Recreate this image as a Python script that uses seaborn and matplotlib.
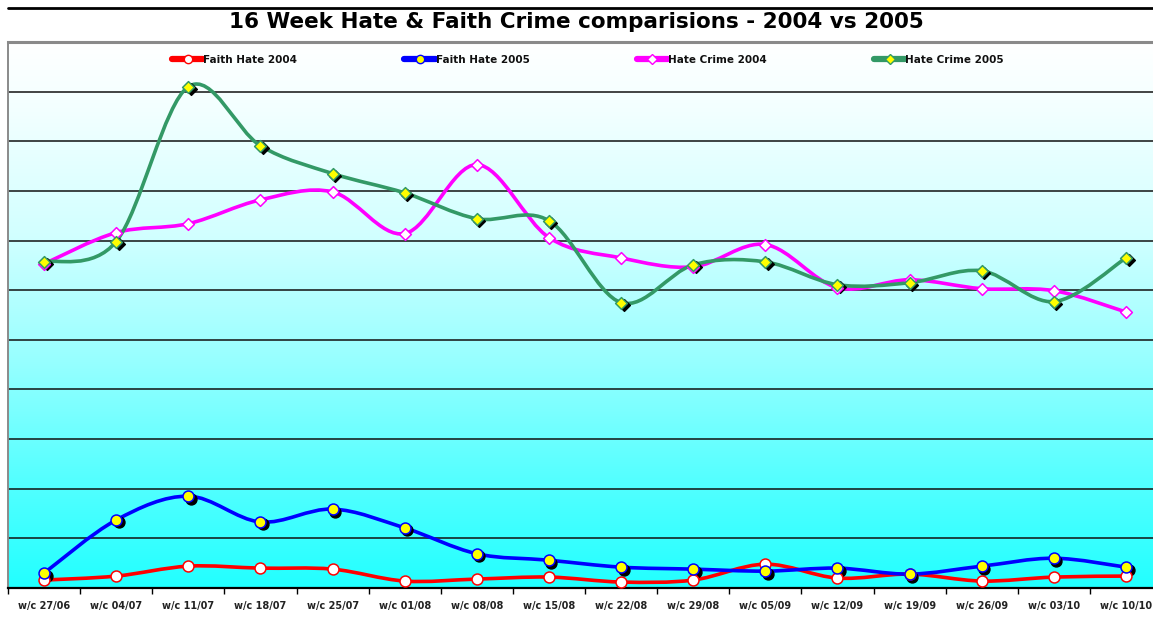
"""16 week hate & faith crime comparison chart, 2004 vs 2005."""

import matplotlib
matplotlib.use("Agg")
import matplotlib.pyplot as plt
import matplotlib.transforms as mtransforms
import numpy as np
import pandas as pd
import seaborn as sns
from matplotlib.colors import LinearSegmentedColormap
from matplotlib.lines import Line2D
from matplotlib.patches import PathPatch
from matplotlib.path import Path

weeks = ["w/c 27/06", "w/c 04/07", "w/c 11/07", "w/c 18/07", "w/c 25/07", "w/c 01/08",
         "w/c 08/08", "w/c 15/08", "w/c 22/08", "w/c 29/08", "w/c 05/09", "w/c 12/09",
         "w/c 19/09", "w/c 26/09", "w/c 03/10", "w/c 10/10"]

faith_2004 = [1.6, 2.4, 4.4, 4.0, 3.8, 1.4, 1.8, 2.2, 1.2, 1.6, 4.8, 2.0, 2.8, 1.4, 2.2, 2.4]
faith_2005 = [3.0, 13.7, 18.5, 13.3, 15.9, 12.1, 6.9, 5.6, 4.2, 3.8, 3.4, 4.0, 2.8, 4.4, 6.0, 4.2]
hate_2004 = [65.3, 71.6, 73.4, 78.2, 79.8, 71.4, 85.3, 70.6, 66.5, 64.7, 69.2, 60.5, 62.1, 60.3, 59.9, 55.6]
hate_2005 = [65.7, 69.8, 101.0, 89.1, 83.5, 79.6, 74.4, 74.0, 57.5, 65.1, 65.7, 61.1, 61.5, 63.9, 57.7, 66.5]

series_names = ["Faith Hate 2004", "Faith Hate 2005", "Hate Crime 2004", "Hate Crime 2005"]


def smooth_path(xs, ys, t=1 / 6):
    """Excel-style smoothed line: cubic bezier through each data point."""
    pts = np.column_stack([xs, ys]).astype(float)
    n = len(pts)
    verts, codes = [pts[0]], [Path.MOVETO]
    for i in range(n - 1):
        p0, p1 = pts[max(i - 1, 0)], pts[i]
        p2, p3 = pts[i + 1], pts[min(i + 2, n - 1)]
        verts += [p1 + (p2 - p0) * t, p2 - (p3 - p1) * t, p2]
        codes += [Path.CURVE4] * 3
    return Path(verts, codes)


sns.set_style("white")
plt.rcParams["font.family"] = ["DejaVu Sans"]

W, H = 1153, 633
fig = plt.figure(figsize=(W / 100, H / 100), dpi=100)
ax = fig.add_axes([8 / W, 45 / H, (W - 8) / W, 546 / H])

x = np.arange(len(weeks))
x_right = -0.5 + (W - 8) / 72.13

# background gradient, white at top to cyan at bottom
cmap = LinearSegmentedColormap.from_list(
    "bg", [(0.0, "#22ffff"), (0.2, "#55ffff"), (0.42, "#98ffff"),
           (0.65, "#d2ffff"), (0.88, "#f3ffff"), (1.0, "#ffffff")])
grad = np.linspace(0, 1, 256).reshape(-1, 1)
ax.imshow(grad, cmap=cmap, origin="lower", aspect="auto",
          extent=[-0.5, x_right, 0, 110], zorder=0)

for yv in range(10, 110, 10):
    ax.axhline(yv, color="#111111", lw=1.1, zorder=1)

styles = [
    (faith_2004, "#ff0000", "o", "white", 62, False),
    (faith_2005, "#0000ff", "o", "#ffff00", 62, True),
    (hate_2004, "#ff00ff", "D", "white", 36, False),
    (hate_2005, "#339966", "D", "#ffff00", 36, True),
]

shadow = mtransforms.offset_copy(ax.transData, fig=fig, x=2.5, y=-2.5, units="dots")
for vals, color, marker, face, size, has_shadow in styles:
    ax.add_patch(PathPatch(smooth_path(x, vals), fill=False, edgecolor=color, lw=2.6,
                           capstyle="round", joinstyle="round", zorder=3))
    df = pd.DataFrame({"week": x, "value": vals})
    if has_shadow:
        ax.scatter(df["week"], df["value"], s=size, marker=marker, color="black",
                   transform=shadow, zorder=4)
    sns.scatterplot(data=df, x="week", y="value", marker=marker, s=size, color=face,
                    edgecolor=color, linewidth=1.1, zorder=5, ax=ax, legend=False)

handles = [Line2D([], [], color=c, lw=4.5, marker=m, markerfacecolor=f,
                  markeredgecolor=c, markersize=6 if m == "o" else 5)
           for _, c, m, f, _, _ in styles]
ax.legend(handles, series_names, loc="center", bbox_to_anchor=(0.5065, 0.967), ncol=4,
          frameon=False, handlelength=3.0, handletextpad=0.0, columnspacing=10.3,
          prop={"size": 7.5, "weight": "bold"}, labelcolor="#111111")

ax.set_xticks(x)
ax.set_xticklabels(weeks, fontsize=7, fontweight="bold", color="#222222")
ax.set_xticks(np.arange(-0.5, len(weeks) - 1, 1), minor=True)
ax.tick_params(axis="x", which="major", length=0, pad=9)
ax.tick_params(axis="x", which="minor", length=4, width=1, color="black", direction="out")
ax.tick_params(axis="x", which="both", bottom=True)
ax.set_yticks([])
ax.set_xlabel("")
ax.set_ylabel("")
ax.set_xlim(-0.5, x_right)
ax.set_ylim(0, 110)

ax.spines["right"].set_visible(False)
ax.spines["top"].set_color("#8a8a8a")
ax.spines["top"].set_linewidth(2.2)
ax.spines["left"].set_color("#8a8a8a")
ax.spines["left"].set_linewidth(1.4)
ax.spines["bottom"].set_color("black")
ax.spines["bottom"].set_linewidth(1.6)

fig.add_artist(Line2D([8 / W, 1], [1 - 7.5 / H] * 2, color="black", lw=2,
                      transform=fig.transFigure))
fig.text(0.4996, 1 - 22 / H, "16 Week Hate & Faith Crime comparisions - 2004 vs 2005",
         ha="center", va="center", fontsize=15.5, fontweight="bold", color="black")

fig.savefig("out.png", dpi=100)
